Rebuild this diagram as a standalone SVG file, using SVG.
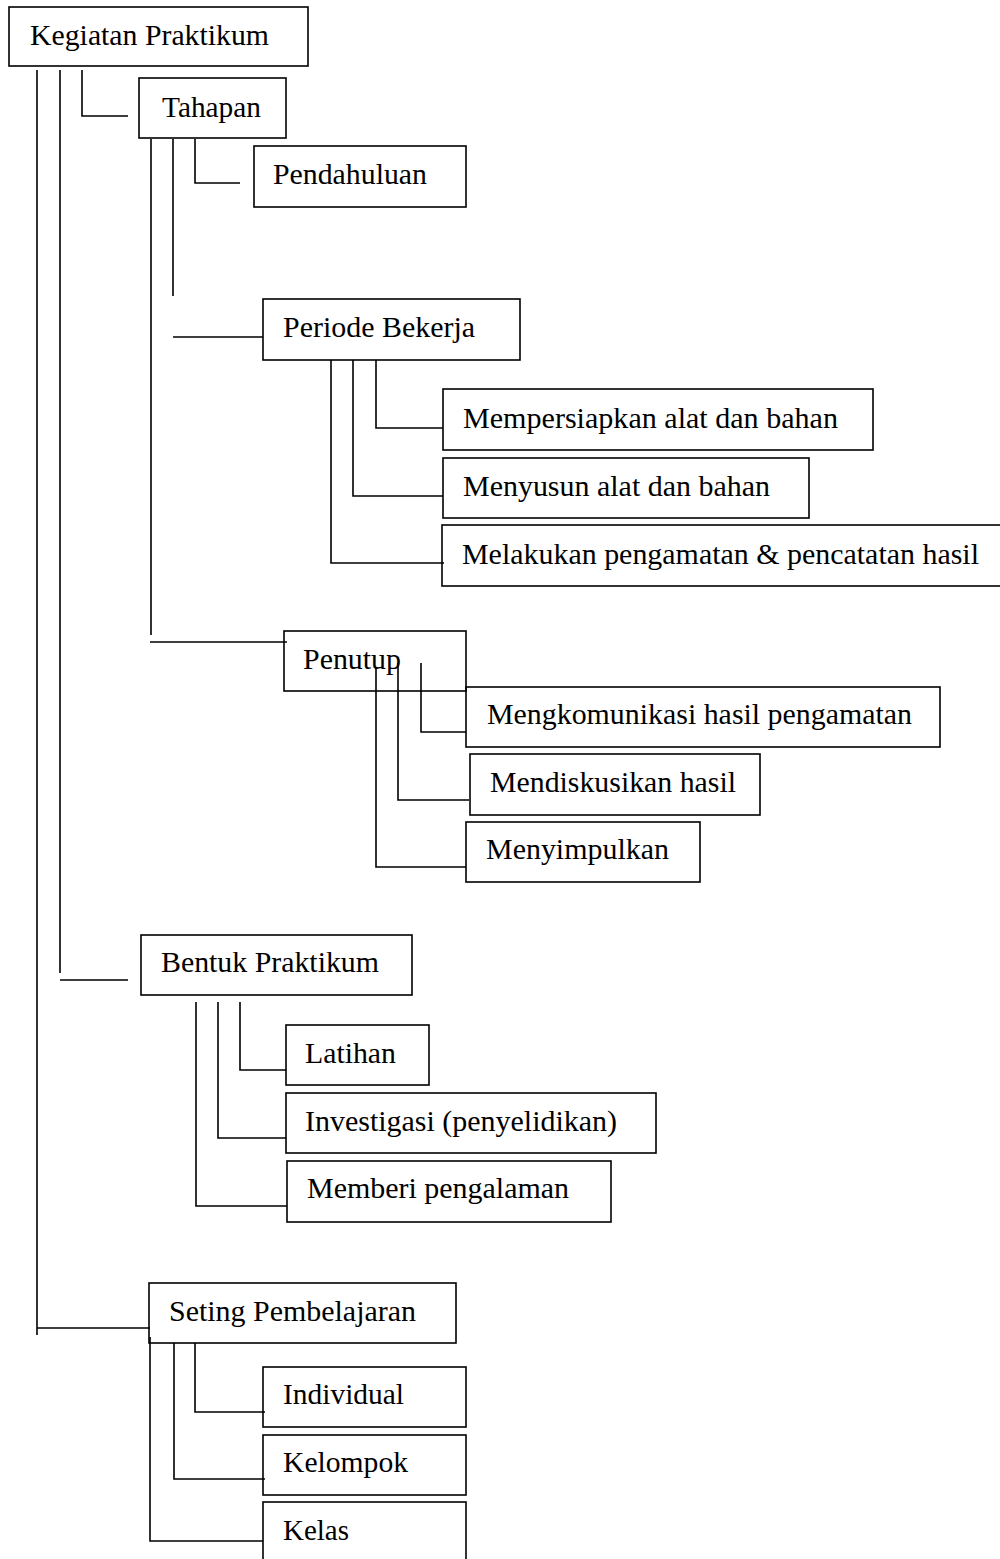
<svg xmlns="http://www.w3.org/2000/svg" width="1000" height="1559" viewBox="0 0 1000 1559">
<style>
.box{fill:none;stroke:#000;stroke-width:1.6}
.lbl{font-family:"Liberation Serif","Times New Roman",serif;font-size:29px;fill:#000}
.con path{fill:none;stroke:#000;stroke-width:1.6}
</style>
<rect width="1000" height="1559" fill="#fff"/>
<g id="nodes">
<g id="kegiatan"><rect class="box" x="9" y="7" width="299" height="59"/><text class="lbl" x="30" y="45" textLength="239" lengthAdjust="spacingAndGlyphs">Kegiatan Praktikum</text></g>
<g id="tahapan"><rect class="box" x="139" y="78" width="147" height="60"/><text class="lbl" x="162" y="117" textLength="99" lengthAdjust="spacingAndGlyphs">Tahapan</text></g>
<g id="pendahuluan"><rect class="box" x="254" y="146" width="212" height="61"/><text class="lbl" x="273" y="184" textLength="154" lengthAdjust="spacingAndGlyphs">Pendahuluan</text></g>
<g id="periode"><rect class="box" x="263" y="299" width="257" height="61"/><text class="lbl" x="283" y="337" textLength="192" lengthAdjust="spacingAndGlyphs">Periode Bekerja</text></g>
<g id="mempersiapkan"><rect class="box" x="443" y="389" width="430" height="61"/><text class="lbl" x="463" y="428" textLength="375" lengthAdjust="spacingAndGlyphs">Mempersiapkan alat dan bahan</text></g>
<g id="menyusun"><rect class="box" x="443" y="458" width="366" height="60"/><text class="lbl" x="463" y="496" textLength="307" lengthAdjust="spacingAndGlyphs">Menyusun alat dan bahan</text></g>
<g id="melakukan"><rect class="box" x="442" y="525" width="562" height="61"/><text class="lbl" x="462" y="564" textLength="517" lengthAdjust="spacingAndGlyphs">Melakukan pengamatan &amp; pencatatan hasil</text></g>
<g id="penutup"><rect class="box" x="284" y="631" width="182" height="60"/><text class="lbl" x="303" y="669" textLength="98" lengthAdjust="spacingAndGlyphs">Penutup</text></g>
<g id="mengkomunikasi"><rect class="box" x="466" y="687" width="474" height="60"/><text class="lbl" x="487" y="724" textLength="425" lengthAdjust="spacingAndGlyphs">Mengkomunikasi hasil pengamatan</text></g>
<g id="mendiskusikan"><rect class="box" x="470" y="754" width="290" height="61"/><text class="lbl" x="490" y="792" textLength="246" lengthAdjust="spacingAndGlyphs">Mendiskusikan hasil</text></g>
<g id="menyimpulkan"><rect class="box" x="466" y="822" width="234" height="60"/><text class="lbl" x="486" y="859" textLength="183" lengthAdjust="spacingAndGlyphs">Menyimpulkan</text></g>
<g id="bentuk"><rect class="box" x="141" y="935" width="271" height="60"/><text class="lbl" x="161" y="972" textLength="218" lengthAdjust="spacingAndGlyphs">Bentuk Praktikum</text></g>
<g id="latihan"><rect class="box" x="286" y="1025" width="143" height="60"/><text class="lbl" x="305" y="1063" textLength="91" lengthAdjust="spacingAndGlyphs">Latihan</text></g>
<g id="investigasi"><rect class="box" x="286" y="1093" width="370" height="60"/><text class="lbl" x="305" y="1131" textLength="312" lengthAdjust="spacingAndGlyphs">Investigasi (penyelidikan)</text></g>
<g id="memberi"><rect class="box" x="287" y="1161" width="324" height="61"/><text class="lbl" x="307" y="1198" textLength="262" lengthAdjust="spacingAndGlyphs">Memberi pengalaman</text></g>
<g id="seting"><rect class="box" x="149" y="1283" width="307" height="60"/><text class="lbl" x="169" y="1321" textLength="247" lengthAdjust="spacingAndGlyphs">Seting Pembelajaran</text></g>
<g id="individual"><rect class="box" x="263" y="1367" width="203" height="60"/><text class="lbl" x="283" y="1404" textLength="121" lengthAdjust="spacingAndGlyphs">Individual</text></g>
<g id="kelompok"><rect class="box" x="263" y="1435" width="203" height="60"/><text class="lbl" x="283" y="1472" textLength="125" lengthAdjust="spacingAndGlyphs">Kelompok</text></g>
<g id="kelas"><rect class="box" x="263" y="1502" width="203" height="70"/><text class="lbl" x="283" y="1540" textLength="66" lengthAdjust="spacingAndGlyphs">Kelas</text></g>
</g>
<g id="connectors" class="con">
<path d="M37,70 V1335 M37,1328 H150"/>
<path d="M60,70 V973 M60,980 H128"/>
<path d="M82,70 V116 H128"/>
<path d="M151,139 V635 M150,642 H287"/>
<path d="M173,139 V296 M173,337 H263"/>
<path d="M195,139 V183 H240"/>
<path d="M376,360 V428 H443"/>
<path d="M353,360 V496 H443"/>
<path d="M331,360 V563 H444"/>
<path d="M421,663 V732 H466"/>
<path d="M398,663 V800 H469"/>
<path d="M376,668 V867 H466"/>
<path d="M240,1002 V1070 H286"/>
<path d="M218,1002 V1138 H286"/>
<path d="M196,1002 V1206 H287"/>
<path d="M195,1343 V1412 H265"/>
<path d="M174,1343 V1479 H265"/>
<path d="M150,1337 V1541 H263"/>
</g>
</svg>
